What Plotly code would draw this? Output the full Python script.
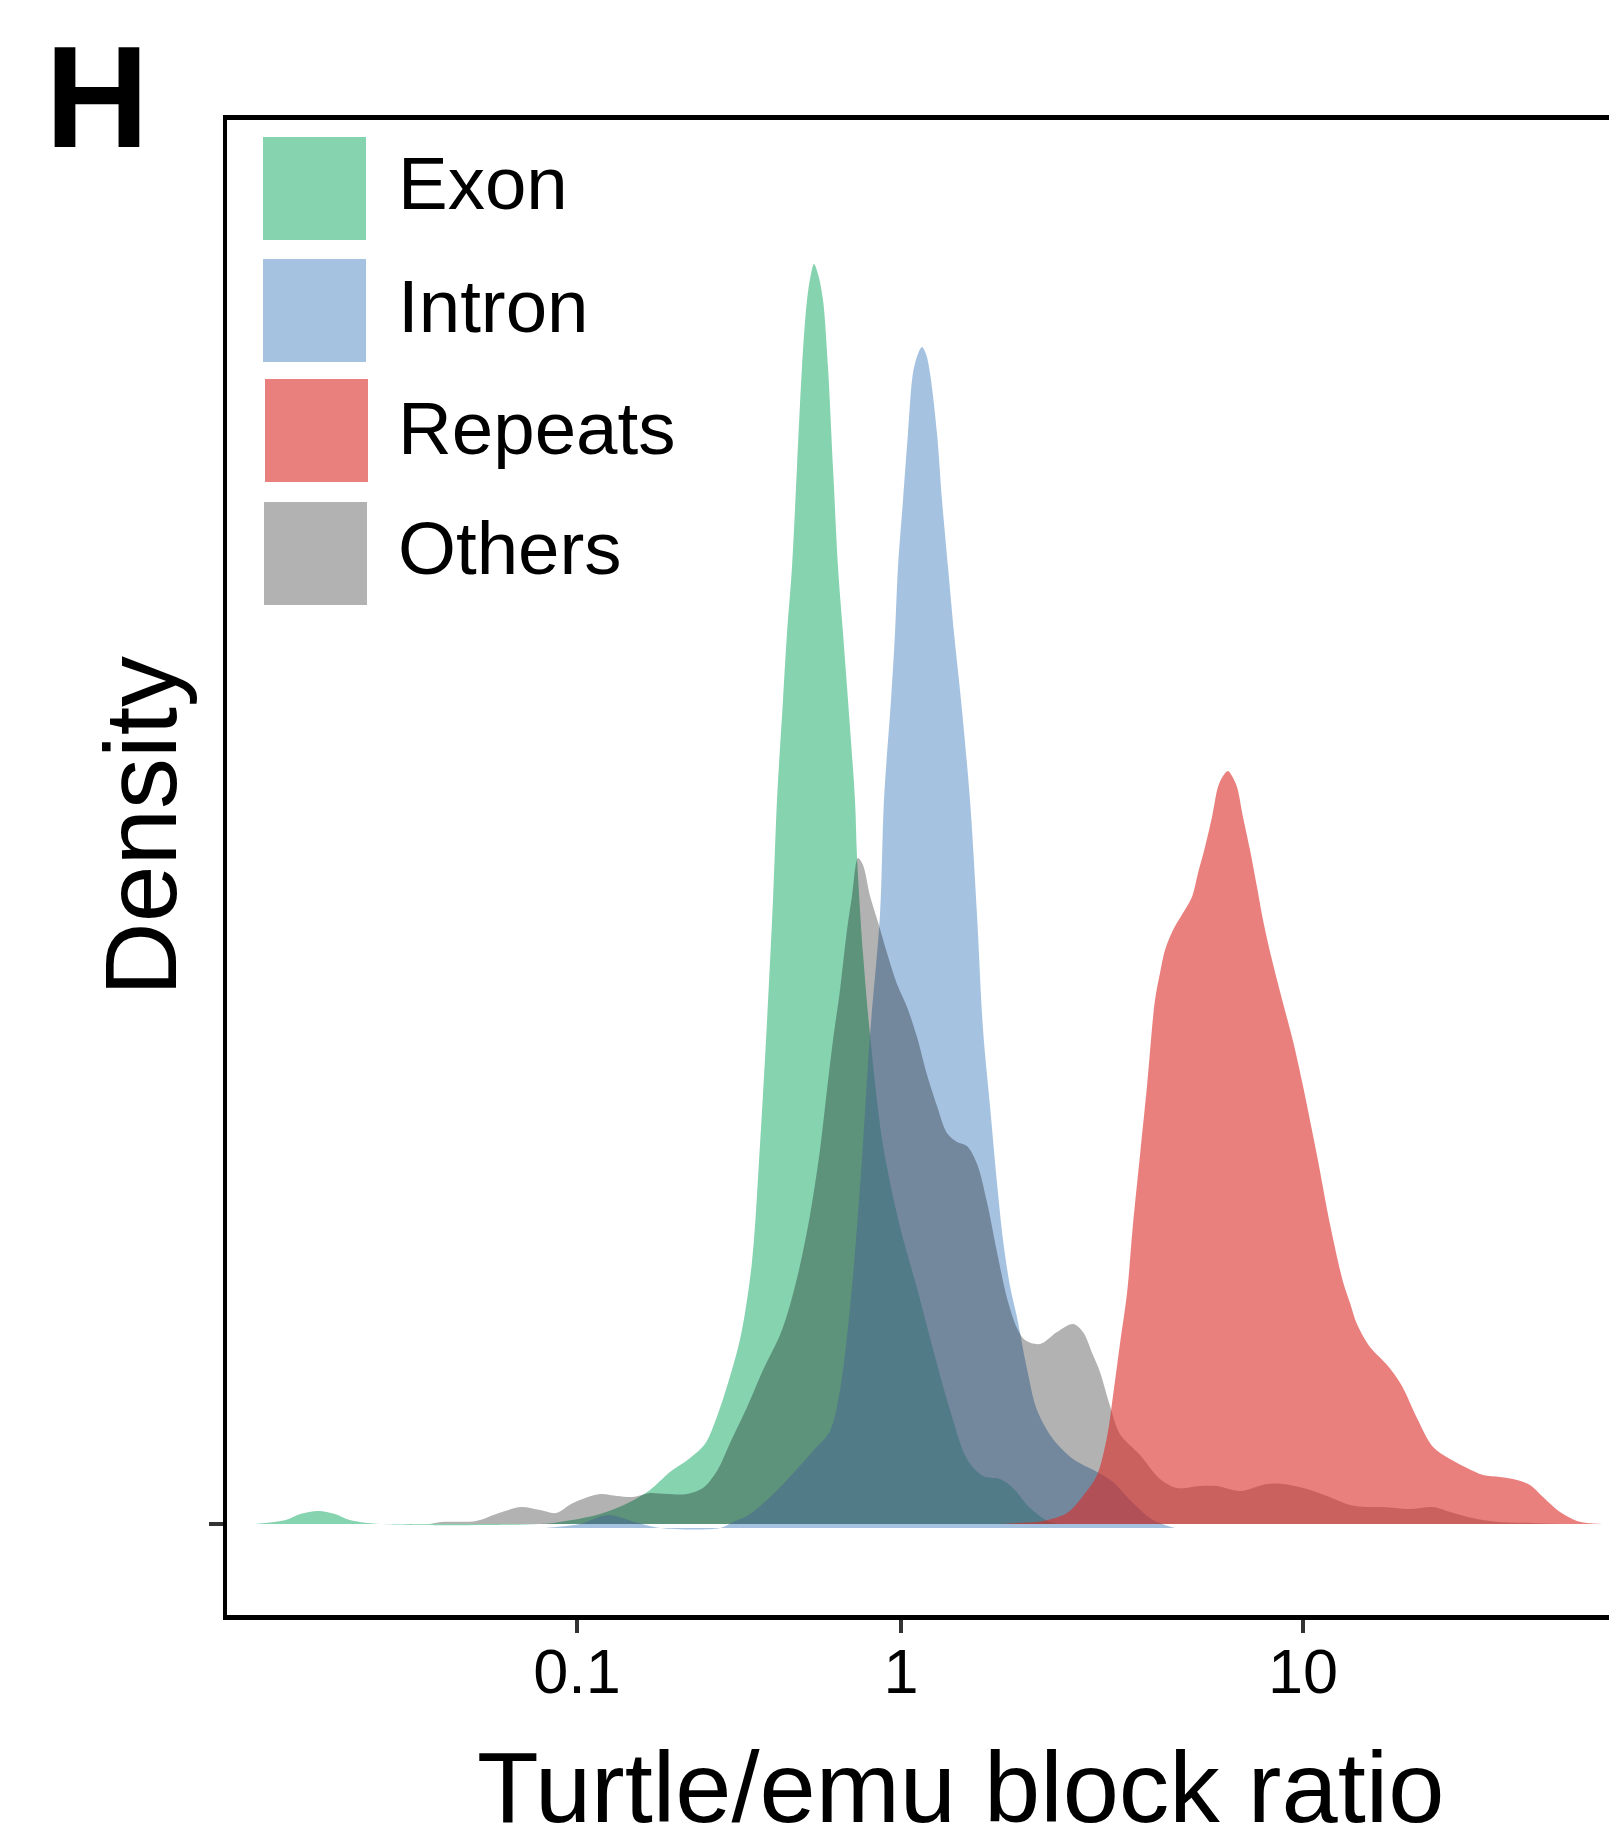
import numpy as np
import plotly.graph_objects as go

# ---------------- data ----------------
categories = ["Exon", "Intron", "Repeats", "Others"]

exon_ratio = [0.0101, 0.0126, 0.0140, 0.0159, 0.0179, 0.0199, 0.0248, 0.0769, 0.0886, 0.1178,
              0.1458, 0.1680, 0.1936, 0.2233, 0.2483, 0.2666, 0.2944, 0.3207, 0.3468, 0.3671,
              0.3858, 0.4026, 0.4143, 0.4323, 0.4448, 0.4609, 0.4775, 0.4949, 0.5128, 0.5275,
              0.5389, 0.5545, 0.5744, 0.5952, 0.6168, 0.6391, 0.6622, 0.6861, 0.7211, 0.7315,
              0.7633, 0.8023, 0.8799, 0.9929, 1.096, 1.201, 1.324, 1.459, 1.600, 1.763,
              1.899, 2.094, 2.348, 2.633]
exon_density = [0, 0.004, 0.010, 0.013, 0.010, 0.004, 0, 0, 0.002, 0.010,
                0.022, 0.034, 0.052, 0.066, 0.080, 0.102, 0.144, 0.189, 0.262, 0.379,
                0.502, 0.624, 0.724, 0.824, 0.891, 0.957, 1.057, 1.157, 1.224, 1.250,
                1.260, 1.250, 1.224, 1.157, 1.057, 0.957, 0.891, 0.824, 0.724, 0.667,
                0.571, 0.489, 0.379, 0.297, 0.236, 0.175, 0.114, 0.065, 0.048, 0.045,
                0.036, 0.016, 0.002, 0]

intron_ratio = [0.0796, 0.1022, 0.1246, 0.1510, 0.1804, 0.2763, 0.3030, 0.3347, 0.3858, 0.4448,
                0.5351, 0.6038, 0.6482, 0.6960, 0.7315, 0.7633, 0.8023, 0.8612, 0.8861, 0.9314,
                0.9583, 0.9789, 1.0115, 1.0409, 1.0711, 1.102, 1.1277, 1.154, 1.1806, 1.2289,
                1.2647, 1.3089, 1.3546, 1.4102, 1.4845, 1.5455, 1.600, 1.665, 1.733, 1.794,
                1.867, 1.943, 2.058, 2.179, 2.388, 2.679, 3.073, 3.368, 3.777, 4.236, 4.804]
intron_density = [0, 0.004, 0.013, 0.006, 0, 0, 0.006, 0.012, 0.028, 0.048,
                  0.077, 0.097, 0.138, 0.220, 0.301, 0.383, 0.493, 0.613, 0.728, 0.828,
                  0.895, 0.961, 1.028, 1.095, 1.155, 1.174, 1.181, 1.174, 1.155, 1.095,
                  1.028, 0.961, 0.895, 0.828, 0.728, 0.613, 0.498, 0.422, 0.345, 0.288,
                  0.242, 0.211, 0.159, 0.118, 0.089, 0.069, 0.056, 0.046, 0.025, 0.008, 0]

repeats_ratio = [1.763, 1.943, 2.255, 2.588, 2.836, 3.073, 3.254, 3.368, 3.505, 3.650,
                 3.777, 3.932, 4.092, 4.284, 4.409, 4.537, 4.750, 5.029, 5.294, 5.481,
                 5.705, 5.938, 6.145, 6.324, 6.508, 6.659, 6.852, 7.091, 7.382, 7.684,
                 7.953, 8.374, 8.917, 9.443, 10.0, 10.83, 11.67, 12.58, 13.09, 13.62,
                 14.68, 16.27, 17.63, 19.21, 21.06, 23.21, 25.59, 28.04, 30.90, 34.06,
                 36.71, 39.54, 43.59, 48.04, 52.65, 55.76]
repeats_density = [0, 0.001, 0.003, 0.011, 0.028, 0.049, 0.087, 0.128, 0.180, 0.231,
                   0.300, 0.369, 0.438, 0.524, 0.551, 0.574, 0.594, 0.611, 0.627, 0.651,
                   0.677, 0.707, 0.737, 0.748, 0.753, 0.748, 0.737, 0.707, 0.674, 0.637,
                   0.604, 0.564, 0.521, 0.483, 0.438, 0.369, 0.300, 0.242, 0.221, 0.200,
                   0.177, 0.158, 0.138, 0.106, 0.077, 0.065, 0.056, 0.049, 0.047, 0.044,
                   0.039, 0.027, 0.012, 0.003, 0.0005, 0]

others_ratio = [0.0352, 0.0380, 0.0488, 0.0574, 0.0672, 0.0769, 0.0861, 0.0972, 0.1178, 0.1329,
                0.1489, 0.1680, 0.1896, 0.2185, 0.2448, 0.2704, 0.2967, 0.3371, 0.3751, 0.4232,
                0.4544, 0.4880, 0.5238, 0.5623, 0.5909, 0.6168, 0.6482, 0.6813, 0.7060, 0.7367,
                0.7633, 0.8023, 0.8491, 0.9053, 0.9719, 1.035, 1.096, 1.161, 1.229, 1.301,
                1.378, 1.459, 1.546, 1.636, 1.733, 1.835, 1.943, 2.034, 2.217, 2.444,
                2.679, 2.836, 3.003, 3.126, 3.311, 3.505, 3.932, 4.409, 4.860, 5.543,
                6.110, 6.970, 8.136, 8.917, 10.23, 11.47, 13.09, 14.43, 15.81, 18.46,
                21.06, 23.21, 27.09, 30.90, 37.34, 43.59]
others_density = [0, 0.002, 0.003, 0.011, 0.017, 0.014, 0.011, 0.021, 0.030, 0.028,
                  0.027, 0.031, 0.030, 0.030, 0.036, 0.053, 0.081, 0.119, 0.154, 0.189,
                  0.219, 0.259, 0.309, 0.374, 0.434, 0.484, 0.534, 0.594, 0.628, 0.666,
                  0.659, 0.628, 0.602, 0.571, 0.540, 0.517, 0.487, 0.449, 0.418, 0.391,
                  0.382, 0.378, 0.360, 0.322, 0.272, 0.226, 0.196, 0.184, 0.180, 0.192,
                  0.200, 0.192, 0.169, 0.152, 0.118, 0.090, 0.069, 0.045, 0.036, 0.038,
                  0.038, 0.033, 0.040, 0.040, 0.035, 0.028, 0.019, 0.017, 0.017, 0.015,
                  0.017, 0.012, 0.005, 0.002, 0.001, 0]

tick_values = [0.1, 1, 10]
tick_labels = ["0.1", "1", "10"]

# ---------------- styling ----------------
FONT = "Liberation Sans, Arial, Helvetica, sans-serif"
COLORS = {
    "Exon": "rgb(134,211,176)",
    "Intron": "rgba(105,153,205,0.6)",
    "Repeats": "rgba(218,43,38,0.6)",
    "Others": "rgba(0,0,0,0.3)",
}
BASE_SHIFT = {"Exon": 0.0, "Intron": -0.004, "Repeats": 0.0, "Others": 0.0}
LEFT_SCALE = 324.0 / 402.0  # the reference's axis compresses decades below 1


def axis_pos(r):
    lg = np.log10(np.asarray(r, dtype=float))
    return np.where(lg < 0, lg * LEFT_SCALE, lg)


W, H = 1609, 1842
ML, MR, MT, MB = 227, 0, 120, 227
PW, PH = W - ML - MR, H - MT - MB


def px_x(p):
    return (p - ML) / PW


def px_y(p):
    return (H - MB - p) / PH


fig = go.Figure()

series = {
    "Exon": (exon_ratio, exon_density),
    "Intron": (intron_ratio, intron_density),
    "Others": (others_ratio, others_density),
    "Repeats": (repeats_ratio, repeats_density),
}
for name in ["Exon", "Intron", "Others", "Repeats"]:
    ratio, dens = series[name]
    xs = axis_pos(ratio)
    shift = BASE_SHIFT[name]
    ys = np.asarray(dens, dtype=float) + shift
    if shift != 0:
        fig.add_trace(go.Scatter(x=xs, y=np.full(len(xs), shift), mode="lines",
                                 line=dict(width=0), hoverinfo="skip", showlegend=False))
        fill = "tonexty"
    else:
        fill = "tozeroy"
    fig.add_trace(go.Scatter(x=xs, y=ys, mode="lines", name=name,
                             line=dict(width=0, shape="spline", smoothing=0.9, color=COLORS[name]),
                             fill=fill, fillcolor=COLORS[name], showlegend=False, hoverinfo="skip"))

x0 = (ML - 901) / 402.0
x1 = (W - 901) / 402.0

fig.update_layout(
    width=W, height=H, autosize=False,
    margin=dict(l=ML, r=MR, t=MT, b=MB, pad=0),
    paper_bgcolor="white", plot_bgcolor="white",
    font=dict(family=FONT, color="black"),
    xaxis=dict(range=[x0, x1], showline=True, linecolor="black", linewidth=5, mirror=True,
               ticks="outside", ticklen=13, tickwidth=4, tickcolor="#333333",
               tickvals=list(axis_pos(tick_values)), ticktext=tick_labels,
               tickfont=dict(size=63, family=FONT, color="black"),
               ticklabelstandoff=-16,
               showgrid=False, zeroline=False, fixedrange=True),
    yaxis=dict(range=[-0.091, 1.404], showline=True, linecolor="black", linewidth=4.5, mirror=False,
               ticks="outside", ticklen=14, tickwidth=4, tickcolor="#333333",
               tickvals=[0], showticklabels=False,
               showgrid=False, zeroline=False, fixedrange=True),
)

annotations = [
    dict(text="<b>H</b>", x=px_x(43), y=px_y(97), xanchor="left", yanchor="middle",
         font=dict(size=144, family=FONT, color="black")),
    dict(text="Density", x=px_x(141), y=px_y(826), xanchor="center", yanchor="middle",
         textangle=-90, font=dict(size=102, family=FONT, color="black")),
    dict(text="Turtle/emu block ratio", x=px_x(960), y=px_y(1787), xanchor="center",
         yanchor="middle", font=dict(size=101, family=FONT, color="black")),
]

# legend (keys + labels)
key_boxes = {"Exon": (263, 137), "Intron": (263, 259), "Repeats": (265, 379), "Others": (264, 502)}
label_mid = {"Exon": 184, "Intron": 307, "Repeats": 428, "Others": 548}
shapes = []
for name in categories:
    kx, ky = key_boxes[name]
    shapes.append(dict(type="rect", xref="paper", yref="paper",
                       x0=px_x(kx), x1=px_x(kx + 103), y0=px_y(ky + 103), y1=px_y(ky),
                       fillcolor=COLORS[name], line=dict(width=0), layer="above"))
    annotations.append(dict(text=name, x=px_x(396), y=px_y(label_mid[name]), xanchor="left",
                            yanchor="middle", font=dict(size=74.5, family=FONT, color="black")))

for a in annotations:
    a.update(xref="paper", yref="paper", showarrow=False)
fig.update_layout(annotations=annotations, shapes=shapes)

fig.write_html("out.html", config={"displayModeBar": False, "staticPlot": True},
               post_script="document.body.style.margin='0px';document.body.style.overflow='hidden';")
